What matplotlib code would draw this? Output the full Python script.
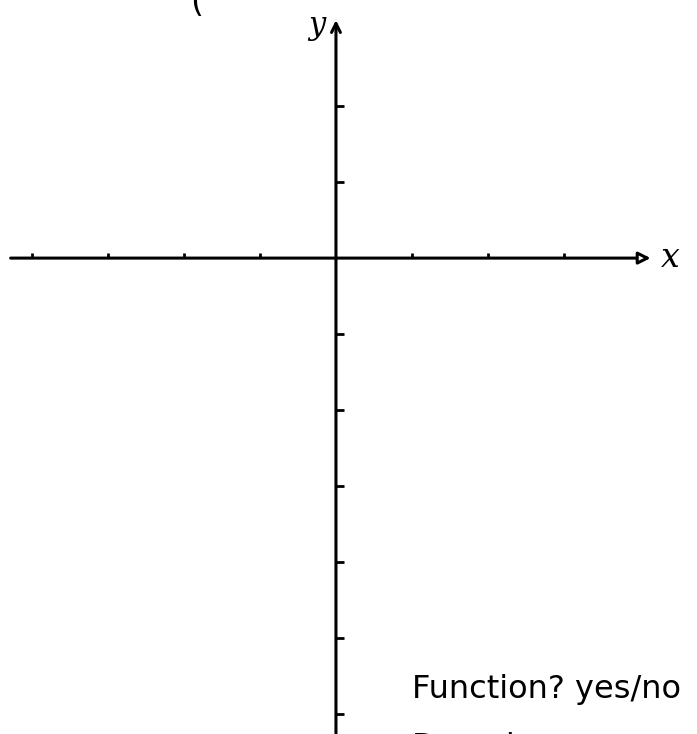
import numpy as np
import matplotlib
matplotlib.use('Agg')
import matplotlib.pyplot as plt

# tick positions (one unit per tick) on each axis
x_ticks = [-4, -3, -2, -1, 1, 2, 3]
y_ticks = [2, 1, -1, -2, -3, -4, -5, -6]

# visible window of the sketch
x_range = (-4.42, 4.75)
y_range = (-6.26, 3.395)

fig = plt.figure(figsize=(6.97, 7.34), dpi=100)
ax = fig.add_axes([0, 0, 1, 1])
ax.set_xlim(*x_range)
ax.set_ylim(*y_range)
ax.axis('off')

# x axis with arrow
ax.annotate('', xy=(4.14, 0), xytext=(-4.28, 0),
            arrowprops=dict(arrowstyle='-|>', lw=2.2, color='black', fc='white',
                            mutation_scale=18, shrinkA=0, shrinkB=0))
# y axis with arrow
ax.annotate('', xy=(0, 3.13), xytext=(0, -6.4),
            arrowprops=dict(arrowstyle='->', lw=2.2, color='black',
                            mutation_scale=16, shrinkA=0, shrinkB=0))

# tick stubs
for t in x_ticks:
    ax.plot([t, t], [0, 0.07], color='black', lw=2, solid_capstyle='butt')
for t in y_ticks:
    ax.plot([0, 0.1], [t, t], color='black', lw=2, solid_capstyle='butt')

# labels
ax.text(4.28, 0.0, 'x', fontsize=24, style='italic', family='DejaVu Serif',
        ha='left', va='center')
ax.text(-0.14, 3.06, 'y', fontsize=22, style='italic', family='DejaVu Serif',
        ha='right', va='center')
ax.text(-1.83, 3.36, '(', fontsize=24, ha='center', va='center')

ax.text(1.0, -5.78, 'Function? yes/no', fontsize=23, ha='left', va='baseline')
ax.text(1.0, -6.24, 'Domain:', fontsize=23, ha='left', va='top')

fig.savefig('out.png', dpi=100)
